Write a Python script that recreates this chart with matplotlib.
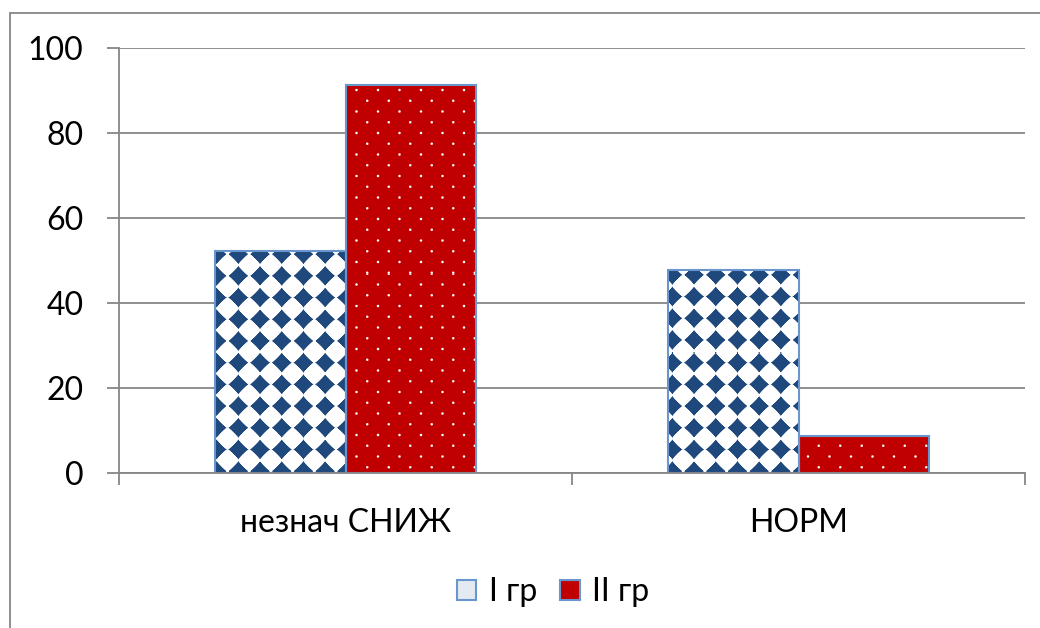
import numpy as np
import matplotlib
matplotlib.use("Agg")
import matplotlib.pyplot as plt
from matplotlib.patches import Rectangle, Patch

plt.rcParams['font.family'] = ['Lato', 'DejaVu Sans']

# данные
categories = ['незнач СНИЖ', 'НОРМ']
series_names = ['I гр', 'II гр']
gr1 = [52.2, 47.8]
gr2 = [91.3, 8.7]
yticks = [0, 20, 40, 60, 80, 100]

grey = '#868686'
blue = '#1F497D'
red = '#C00000'
edge = '#6A96CF'

W, H = 1040, 628
fig = plt.figure(figsize=(W / 100, H / 100), dpi=100)
ax_l, ax_b, ax_w, ax_h = 119, 155, 906, 425
ax = fig.add_axes([ax_l / W, ax_b / H, ax_w / W, ax_h / H])

# рамка вокруг диаграммы
fig.add_artist(Rectangle((10 / W, -0.05), 1.2, 1.05 - 13 / H, transform=fig.transFigure,
                         fill=False, edgecolor=grey, linewidth=1.3))


def diamond_pattern(w, h, p=21.7, r0=9.6):
    yy, xx = np.mgrid[0:h, 0:w] + 0.5
    dx = (xx % p) - p / 2
    dy = (yy % p) - p / 2
    # ромбы с чуть вогнутыми гранями
    d = (np.abs(dx) ** 0.92 + np.abs(dy) ** 0.92) ** (1 / 0.92)
    a = np.clip(r0 - d + 0.8, 0, 1)[..., None]
    c = np.array(matplotlib.colors.to_rgb(blue))
    img = a * c + (1 - a) * np.ones(3)
    return img


def dot_pattern(w, h, p=21.5, r0=1.2):
    yy, xx = np.mgrid[0:h, 0:w] + 0.5
    dxa = (xx % p) - p / 2
    dya = (yy % p) - p / 2
    dxb = ((xx + p / 2) % p) - p / 2
    dyb = ((yy + p / 2) % p) - p / 2
    d = np.minimum(np.hypot(dxa, dya), np.hypot(dxb, dyb))
    a = np.clip(r0 - d + 0.5, 0, 1)[..., None]
    c = np.array(matplotlib.colors.to_rgb(red))
    img = a * np.ones(3) + (1 - a) * c
    return img


x = np.arange(len(categories))
bw = 0.287
bars1 = ax.bar(x - bw / 2, gr1, bw, color='white', edgecolor='none', zorder=1)
bars2 = ax.bar(x + bw / 2, gr2, bw, color=red, edgecolor='none', zorder=1)

img1 = diamond_pattern(ax_w, ax_h)
img2 = dot_pattern(ax_w, ax_h)
for bars, img in [(bars1, img1), (bars2, img2)]:
    for b in bars:
        im = ax.imshow(img, extent=(0, 1, 0, 1), transform=ax.transAxes,
                       aspect='auto', interpolation='nearest', zorder=1.5)
        im.set_clip_path(b)

# контуры столбиков
ax.bar(x - bw / 2, gr1, bw, fill=False, edgecolor=edge, linewidth=1.5, zorder=2)
ax.bar(x + bw / 2, gr2, bw, fill=False, edgecolor=edge, linewidth=1.5, zorder=2)

ax.set_xlim(-0.5, len(categories) - 0.5)
ax.set_ylim(0, 100)
ax.set_yticks(yticks)
ax.set_yticklabels([str(v) for v in yticks])
ax.set_xticks(np.arange(len(categories) + 1) - 0.5)
ax.set_xticklabels([])
ax.set_xticks(x, minor=True)
ax.set_xticklabels(categories, minor=True)

ax.grid(axis='y', color=grey, linewidth=1.3)
ax.set_axisbelow(True)
for s in ['top', 'right']:
    ax.spines[s].set_visible(False)
for s in ['left', 'bottom']:
    ax.spines[s].set_color(grey)
    ax.spines[s].set_linewidth(1.3)
ax.tick_params(which='major', direction='out', length=8.6, width=1.3, color=grey,
               labelsize=23)
ax.tick_params(axis='y', pad=17)
ax.tick_params(axis='x', which='minor', length=0, labelsize=23, pad=25)

handles = [Patch(facecolor='#E4EAF2', edgecolor=edge, linewidth=1.5),
           Patch(facecolor=red, edgecolor=edge, linewidth=1.5)]
fig.legend(handles, series_names, loc='center', bbox_to_anchor=(553 / W, 1 - 592 / H),
           ncol=2, frameon=False, fontsize=23, handlelength=0.62, handleheight=0.6,
           handletextpad=0.4, columnspacing=0.7, borderpad=0)

fig.savefig('out.png', dpi=100)
